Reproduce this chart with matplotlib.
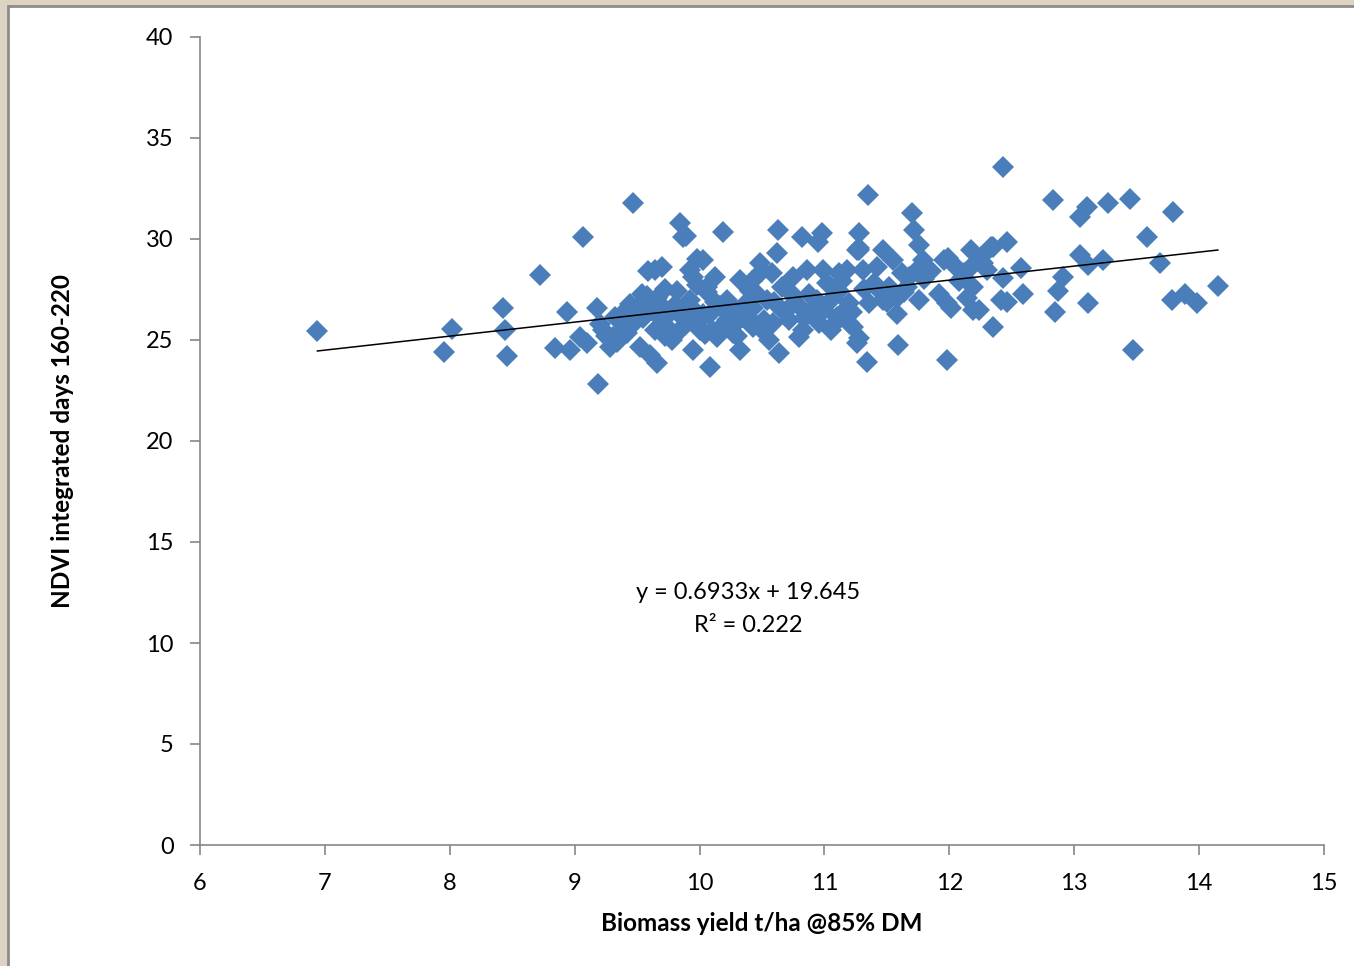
import numpy as np
import matplotlib.pyplot as plt
from matplotlib.patches import Rectangle

# Biomass yield (t/ha @85% DM) and integrated NDVI
biomass = [
    6.94, 7.95, 8.02, 8.43, 8.44, 8.46, 8.72, 8.84, 8.94, 8.96,
    9.07, 9.10, 9.18, 9.19, 9.23, 9.28, 9.32, 9.04, 9.31, 9.36,
    9.42, 9.44, 9.46, 9.47, 9.52, 9.55, 9.56, 9.59, 9.60, 9.64,
    9.64, 9.66, 9.68, 9.70, 9.70, 9.72, 9.76, 9.78, 9.79, 9.80,
    9.82, 9.84, 9.87, 9.88, 9.89, 9.90, 9.92, 9.92, 9.95, 9.95,
    9.98, 9.98, 10.00, 10.00, 10.03, 10.03, 10.06, 10.06, 10.08, 10.08,
    10.10, 10.12, 10.14, 10.19, 10.22, 10.22, 10.27, 10.32, 10.32, 10.35,
    10.40, 10.43, 10.43, 10.48, 10.54, 10.56, 10.58, 10.59, 10.62, 10.63,
    10.64, 10.72, 10.72, 10.75, 10.80, 10.82, 10.83, 10.86, 10.88, 10.95,
    10.96, 10.98, 10.99, 11.07, 11.10, 11.12, 11.12, 11.18, 11.18, 11.20,
    11.20, 11.23, 11.26, 11.26, 11.28, 11.28, 11.28, 11.28, 11.31, 11.34,
    11.35, 11.36, 11.42, 11.47, 11.47, 11.55, 11.58, 11.58, 11.59, 11.66,
    11.68, 11.70, 11.72, 11.74, 11.76, 11.76, 11.79, 11.92, 11.96, 11.98,
    11.98, 11.99, 12.01, 12.11, 12.14, 12.17, 12.17, 12.19, 12.19, 12.24,
    12.25, 12.27, 12.30, 12.33, 12.35, 12.35, 12.41, 12.43, 12.43, 12.46,
    12.46, 12.57, 12.59, 12.83, 12.85, 12.87, 12.91, 13.05, 13.05, 13.10,
    13.11, 13.11, 13.23, 13.27, 13.45, 13.47, 13.58, 13.69, 13.78, 13.79,
    13.89, 13.98, 14.15,
    9.20, 9.40, 9.50, 9.62, 9.74, 9.86, 10.16, 10.26, 10.38, 10.46,
    10.52, 10.68, 10.78, 10.92, 11.02, 11.15, 11.40, 11.52, 11.62, 11.85,
    12.05, 9.34, 9.58, 10.28, 10.90, 11.05, 11.45, 12.08, 9.25, 10.50,
    9.38, 9.48, 9.54, 9.66, 9.72, 9.82, 9.94, 10.04, 10.12, 10.18,
    10.24, 10.30, 10.36, 10.42, 10.50, 10.60, 10.66, 10.70, 10.76, 10.84,
    10.94, 11.00, 11.08, 11.14, 11.22, 11.32, 11.50, 11.64, 11.80, 12.12,
]
ndvi = [
    25.45, 24.40, 25.55, 26.60, 25.50, 24.20, 28.20, 24.60, 26.40, 24.50,
    30.10, 24.85, 26.60, 22.80, 25.50, 24.65, 26.15, 25.15, 25.15, 25.25,
    25.35, 26.80, 26.10, 31.80, 24.65, 26.10, 27.00, 28.40, 24.25, 25.50,
    28.45, 23.85, 26.80, 26.00, 28.60, 27.50, 25.50, 25.00, 25.15, 26.75,
    27.45, 30.80, 30.10, 25.75, 30.15, 26.15, 27.00, 28.45, 28.10, 24.50,
    27.70, 29.00, 26.00, 25.50, 26.30, 28.95, 27.60, 27.40, 26.30, 23.65,
    25.50, 28.10, 25.15, 30.35, 26.00, 27.00, 25.35, 27.95, 24.50, 26.15,
    27.45, 25.65, 26.60, 28.80, 27.00, 25.00, 28.30, 25.85, 29.30, 30.45,
    24.35, 27.45, 26.00, 28.10, 25.15, 30.10, 25.50, 28.45, 27.30, 29.85,
    25.85, 30.30, 28.45, 27.10, 26.15, 28.30, 27.45, 26.60, 28.45, 26.85,
    25.85, 25.65, 29.45, 24.85, 30.30, 29.45, 25.10, 29.55, 28.45, 23.90,
    32.20, 26.85, 28.60, 29.45, 27.00, 28.95, 27.10, 26.30, 24.75, 27.60,
    28.10, 31.30, 30.45, 28.45, 29.70, 27.00, 28.95, 27.30, 28.95, 26.85,
    24.00, 29.05, 26.60, 28.10, 27.10, 29.45, 28.60, 27.60, 26.50, 26.50,
    29.10, 28.80, 28.45, 29.60, 29.60, 25.65, 27.00, 33.55, 28.05, 29.85,
    26.90, 28.55, 27.30, 31.95, 26.40, 27.45, 28.10, 31.10, 29.20, 31.60,
    28.70, 26.85, 28.95, 31.80, 32.00, 24.50, 30.10, 28.80, 27.00, 31.35,
    27.30, 26.85, 27.65,
    25.80, 25.60, 26.40, 26.50, 26.20, 25.60, 26.70, 26.50, 26.20, 27.30,
    26.00, 26.40, 26.80, 26.60, 27.80, 26.20, 27.80, 27.60, 28.30, 28.40,
    28.60, 24.90, 27.20, 25.80, 26.30, 25.50, 27.40, 27.90, 25.20, 28.40,
    26.30, 25.90, 27.30, 27.10, 25.20, 26.40, 26.60, 25.30, 26.90, 25.70,
    26.70, 25.20, 26.80, 27.90, 25.50, 26.90, 27.60, 26.50, 27.20, 26.10,
    27.00, 26.50, 25.80, 27.90, 26.40, 27.50, 26.90, 27.40, 28.00, 28.30,
]

# Trend line given on the chart
slope = 0.6933
intercept = 19.645

fig = plt.figure(figsize=(13.54, 9.66), dpi=100)
fig.patch.set_facecolor('#ddd3c3')
panel = Rectangle((8 / 1354, -0.01), 1.02, 1 - 6 / 966 + 0.01,
                  transform=fig.transFigure, facecolor='white',
                  edgecolor='#8c8c8c', linewidth=2, zorder=-10)
fig.add_artist(panel)

ax = fig.add_axes([200 / 1354, 1 - 845 / 966, 1124 / 1354, 808 / 966])
ax.set_zorder(5)
ax.patch.set_alpha(0)

ax.plot(biomass, ndvi, linestyle='none', marker='D', markersize=11.5,
        color='#4a7ebb', markeredgewidth=0, zorder=2)

xfit = np.array([min(biomass), max(biomass)])
ax.plot(xfit, slope * xfit + intercept, color='black', linewidth=1.1, zorder=3)

ax.set_xlim(6, 15)
ax.set_ylim(0, 40)
ax.set_xticks(range(6, 16))
ax.set_yticks(range(0, 41, 5))

for side in ['top', 'right']:
    ax.spines[side].set_visible(False)
for side in ['left', 'bottom']:
    ax.spines[side].set_color('#868686')
    ax.spines[side].set_linewidth(1.2)

font = 'Lato'
ax.tick_params(axis='both', colors='#868686', length=7, width=1.2,
               labelsize=17, labelcolor='black')
ax.tick_params(axis='x', pad=13)
ax.tick_params(axis='y', pad=12)
for lbl in ax.get_xticklabels() + ax.get_yticklabels():
    lbl.set_fontfamily(font)

ax.set_xlabel('Biomass yield t/ha @85% DM', fontsize=17.5, fontweight='bold',
              family=font, labelpad=13)
ax.set_ylabel('NDVI integrated days 160-220', fontsize=17.5, fontweight='bold',
              family=font, labelpad=52)

ax.text(0.4875, 0.313, 'y = 0.6933x + 19.645', transform=ax.transAxes,
        ha='center', va='center', fontsize=17, family=font)
ax.text(0.4875, 0.272, 'R² = 0.222', transform=ax.transAxes,
        ha='center', va='center', fontsize=17, family=font)

fig.savefig('out.png', dpi=100, facecolor=fig.get_facecolor())
